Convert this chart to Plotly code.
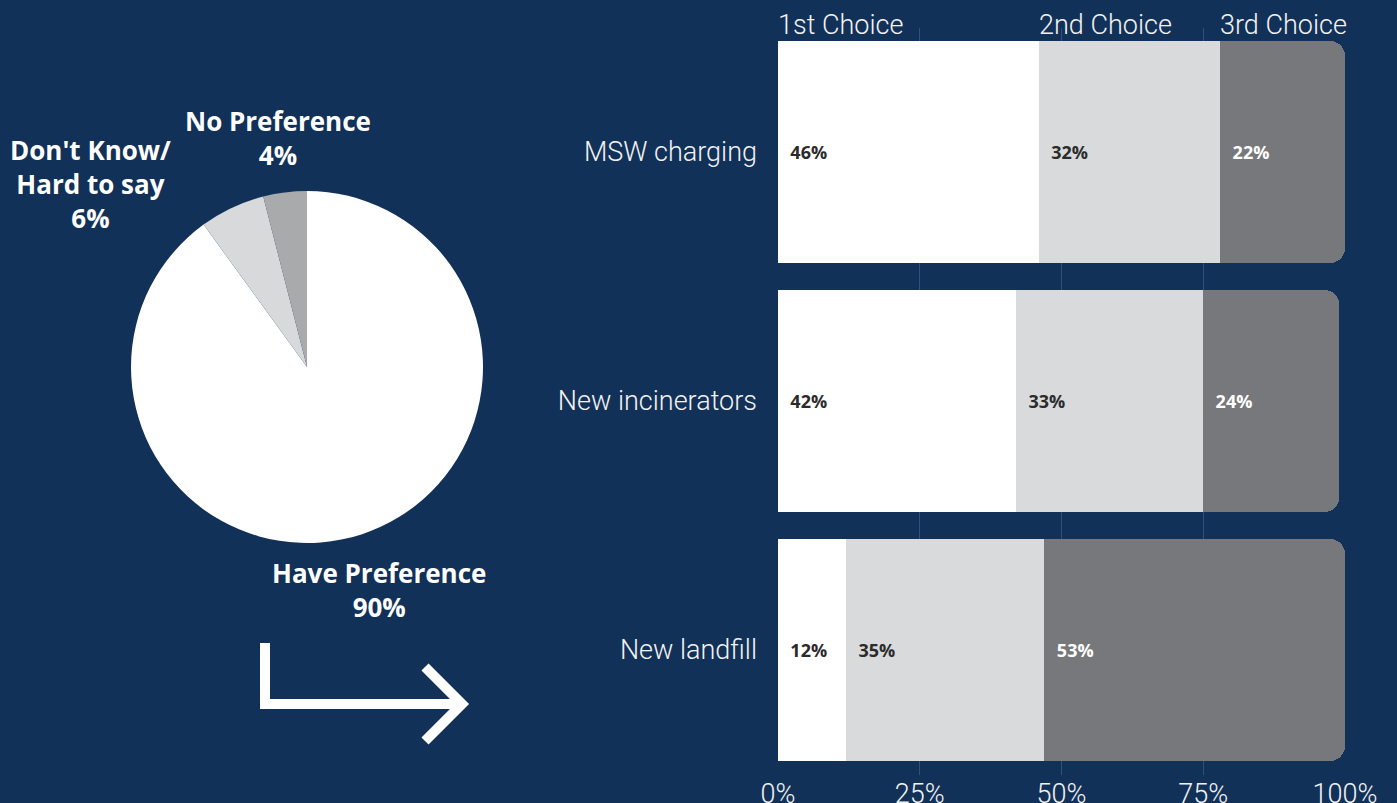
import plotly.graph_objects as go

# ---- data ----
categories = ["MSW charging", "New incinerators", "New landfill"]
choice_names = ["1st Choice", "2nd Choice", "3rd Choice"]
first_choice = [46, 42, 12]
second_choice = [32, 33, 35]
third_choice = [22, 24, 53]

pie_labels = ["Have Preference", "Don't Know/<br>Hard to say", "No Preference"]
pie_values = [90, 6, 4]

x_tick_vals = [0, 25, 50, 75, 100]
x_tick_text = ["0%", "25%", "50%", "75%", "100%"]

# ---- styling ----
W, H = 1397, 803
BG = "#123158"
bar_colors = ["#ffffff", "#d9dadc", "#77787b"]
bar_text_colors = ["#2b2b2b", "#2b2b2b", "#ffffff"]
pie_colors = ["#ffffff", "#d8d9db", "#a9aaac"]
THIN = dict(family="Roboto", size=27, color="#f2f2f2", weight=300)
BOLD_FONT = "Open Sans"


def px(x):
    return x / W


def py(y):
    return 1 - y / H


fig = go.Figure()

series = [first_choice, second_choice, third_choice]
for name, vals, col, tcol in zip(choice_names, series, bar_colors, bar_text_colors):
    fig.add_trace(go.Bar(
        y=categories, x=vals, name=name, orientation="h",
        marker=dict(color=col, line=dict(width=0)),
        text=[f"  {v}%" for v in vals], texttemplate="%{text}",
        textposition="inside", insidetextanchor="start",
        textfont=dict(family=BOLD_FONT, size=18, color=tcol, weight=700),
        xaxis="x", yaxis="y", showlegend=False, hoverinfo="skip",
    ))

fig.add_trace(go.Pie(
    labels=[l.replace("<br>", " ") for l in pie_labels], values=pie_values,
    sort=False, direction="clockwise", rotation=0,
    marker=dict(colors=pie_colors, line=dict(width=0)),
    textinfo="none", hoverinfo="skip", showlegend=False,
    domain=dict(x=[px(307 - 176), px(307 + 176)], y=[py(367 + 176), py(367 - 176)]),
))

annotations = []
# choice headers, anchored at segment starts of the first bar
starts = [0, first_choice[0], first_choice[0] + second_choice[0]]
for name, s in zip(choice_names, starts):
    annotations.append(dict(
        x=s, xref="x", y=py(25), yref="paper", text=name, showarrow=False,
        xanchor="left", yanchor="middle", font=THIN, xshift=-2,
    ))

# pie labels
pie_label_pos = [(379, 590), (90, 184), (278, 138)]
for lab, val, (cx, cy) in zip(pie_labels, pie_values, pie_label_pos):
    annotations.append(dict(
        x=px(cx), y=py(cy), xref="paper", yref="paper",
        text=f"{lab}<br>{val}%", showarrow=False,
        xanchor="center", yanchor="middle",
        font=dict(family=BOLD_FONT, size=26, color="#ffffff", weight=700),
    ))


def path(points):
    return "M " + " L ".join(f"{px(x)},{py(y)}" for x, y in points)


shapes = [
    dict(type="path", xref="paper", yref="paper",
         path=path([(265, 643), (265, 704), (462, 704)]),
         line=dict(color="#ffffff", width=10)),
    dict(type="path", xref="paper", yref="paper",
         path=path([(425, 667), (462, 704), (425, 741)]),
         line=dict(color="#ffffff", width=10)),
]

fig.update_layout(
    width=W, height=H,
    margin=dict(l=0, r=0, t=0, b=0),
    paper_bgcolor=BG, plot_bgcolor=BG,
    barmode="stack", bargap=27 / 249, barcornerradius=15,
    xaxis=dict(
        domain=[px(778), px(1345)], range=[0, 100], automargin=False,
        tickvals=x_tick_vals, ticktext=x_tick_text, tickfont=THIN,
        showgrid=True, gridcolor="#34507a", gridwidth=1,
        zeroline=False, showline=False, ticks="",
    ),
    yaxis=dict(
        domain=[py(774.5), py(27.5)], automargin=False,
        categoryorder="array", categoryarray=categories[::-1],
        tickfont=THIN, showgrid=False, zeroline=False, showline=False,
        ticks="", ticklabelstandoff=20,
    ),
    annotations=annotations, shapes=shapes,
)

fig.write_html(
    "out.html",
    config={"displayModeBar": False},
    post_script="document.body.style.margin='0';document.body.style.padding='0';",
)
